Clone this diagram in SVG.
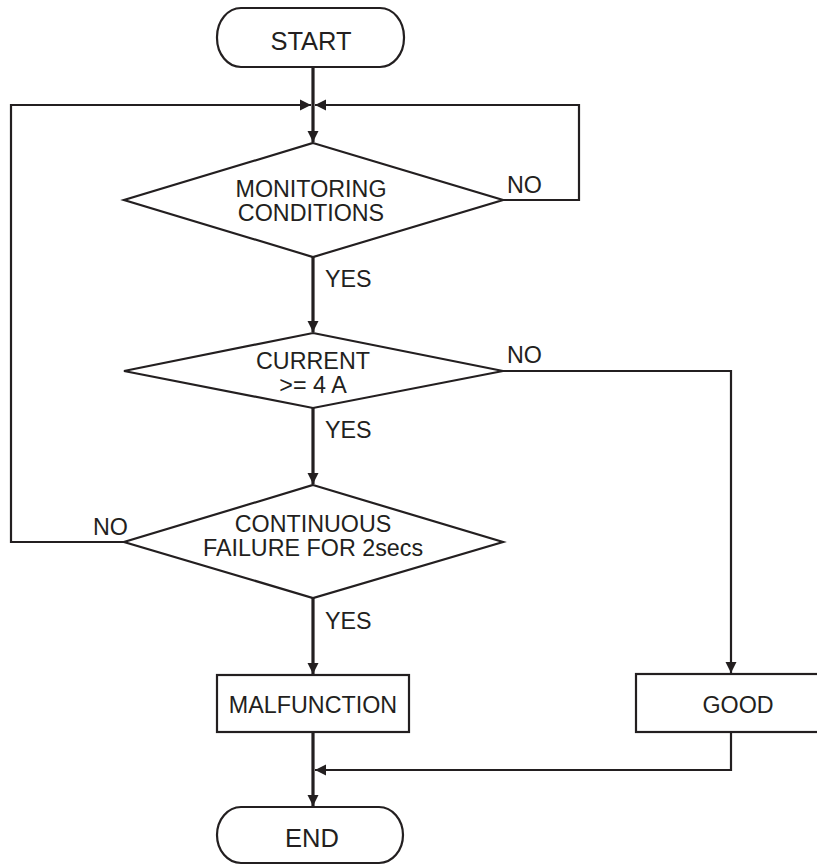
<svg xmlns="http://www.w3.org/2000/svg" width="817" height="865" viewBox="0 0 817 865">
  <style>
    .shape { fill: #ffffff; stroke: #231f20; stroke-width: 2.2; }
    .label { font-family: "Liberation Sans", Arial, sans-serif; font-size: 23.3px; fill: #231f20; }
    .term { font-size: 25.5px; }
    .mid { text-anchor: middle; }
    .flow { fill: none; stroke: #231f20; stroke-width: 3.2; }
    .thin { fill: none; stroke: #231f20; stroke-width: 2.2; }
  </style>
  <defs>
    <marker id="arrow" markerUnits="userSpaceOnUse" markerWidth="12" markerHeight="12" viewBox="0 0 12 12" refX="11" refY="6" orient="auto">
      <path d="M0,0.5 L11,6 L0,11.5 Z" fill="#231f20"/>
    </marker>
  </defs>
  <rect width="817" height="865" fill="#ffffff"/>

  <!-- connectors -->
  <g id="connectors">
    <!-- main spine -->
    <line class="flow" x1="313" y1="67" x2="313" y2="142" marker-end="url(#arrow)"/>
    <line class="flow" x1="313" y1="257" x2="313" y2="332" marker-end="url(#arrow)"/>
    <line class="flow" x1="313" y1="408" x2="313" y2="484" marker-end="url(#arrow)"/>
    <line class="flow" x1="313" y1="598" x2="313" y2="674" marker-end="url(#arrow)"/>
    <line class="flow" x1="313" y1="732" x2="313" y2="806" marker-end="url(#arrow)"/>
    <!-- NO loop from monitoring conditions -->
    <polyline class="thin" points="503,200 579,200 579,105 315,105" marker-end="url(#arrow)"/>
    <!-- NO loop from continuous failure -->
    <polyline class="thin" points="124,542 11,542 11,105 311,105" marker-end="url(#arrow)"/>
    <!-- NO branch from current check to GOOD -->
    <polyline class="thin" points="503,371 731,371 731,673" marker-end="url(#arrow)"/>
    <!-- GOOD back to main spine -->
    <polyline class="thin" points="731,732 731,770 315,770" marker-end="url(#arrow)"/>
  </g>

  <g id="start">
    <rect class="shape" x="217" y="8" width="187" height="59" rx="24" ry="29"/>
    <text class="label term mid" x="311" y="50">START</text>
  </g>

  <g id="monitoring">
    <polygon class="shape" points="313,143 503,200 313,257 124,200"/>
    <text class="label mid" x="311" y="197">MONITORING</text>
    <text class="label mid" x="311" y="221">CONDITIONS</text>
  </g>

  <g id="current">
    <polygon class="shape" points="313,333 503,371 313,408 124,371"/>
    <text class="label mid" x="313" y="369">CURRENT</text>
    <text class="label mid" x="313" y="393">&gt;= 4 A</text>
  </g>

  <g id="continuous">
    <polygon class="shape" points="313,485 503,542 313,598 124,542"/>
    <text class="label mid" x="313" y="532">CONTINUOUS</text>
    <text class="label mid" x="313" y="556">FAILURE FOR 2secs</text>
  </g>

  <g id="malfunction">
    <rect class="shape" x="217" y="675" width="192" height="57"/>
    <text class="label mid" x="313" y="713">MALFUNCTION</text>
  </g>

  <g id="good">
    <rect class="shape" x="636" y="674" width="200" height="58"/>
    <text class="label mid" x="738" y="713">GOOD</text>
  </g>

  <g id="end">
    <rect class="shape" x="217" y="807" width="186" height="56" rx="24" ry="28"/>
    <text class="label term mid" x="312" y="847">END</text>
  </g>

  <!-- branch labels -->
  <g id="branch-labels">
    <text class="label" x="507" y="193">NO</text>
    <text class="label" x="325" y="287">YES</text>
    <text class="label" x="507" y="363">NO</text>
    <text class="label" x="325" y="438">YES</text>
    <text class="label" x="93" y="535">NO</text>
    <text class="label" x="325" y="629">YES</text>
  </g>
</svg>
